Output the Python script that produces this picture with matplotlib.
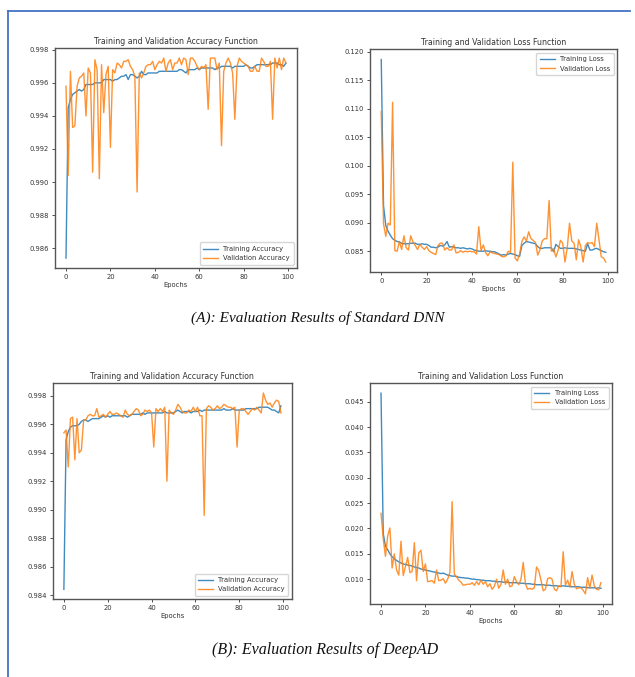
import numpy as np
import matplotlib
matplotlib.use("Agg")
import matplotlib.pyplot as plt
from matplotlib.lines import Line2D

epochs = np.arange(100)

# (A) Standard DNN
dnn_train_acc = [
    0.9854, 0.9945, 0.9950, 0.9953, 0.9954, 0.9955, 0.9956, 0.9955, 0.9956, 0.9959,
    0.9959, 0.9959, 0.9959, 0.9960, 0.9960, 0.9960, 0.9960, 0.9962, 0.9962, 0.9962,
    0.9962, 0.9961, 0.9962, 0.9962, 0.9963, 0.9964, 0.9964, 0.9965, 0.9962, 0.9965,
    0.9965, 0.9964, 0.9963, 0.9964, 0.9967, 0.9965, 0.9965, 0.9966, 0.9966, 0.9966,
    0.9966, 0.9966, 0.9967, 0.9967, 0.9967, 0.9967, 0.9967, 0.9967, 0.9967, 0.9967,
    0.9967, 0.9968, 0.9968, 0.9967, 0.9966, 0.9968, 0.9968, 0.9968, 0.9968, 0.9969,
    0.9968, 0.9969, 0.9969, 0.9969, 0.9969, 0.9969, 0.9969, 0.9968, 0.9969, 0.9969,
    0.9970, 0.9970, 0.9970, 0.9970, 0.9970, 0.9969, 0.9970, 0.9970, 0.9970, 0.9970,
    0.9970, 0.9971, 0.9970, 0.9969, 0.9969, 0.9970, 0.9971, 0.9971, 0.9971, 0.9971,
    0.9971, 0.9971, 0.9971, 0.9972, 0.9972, 0.9972, 0.9971, 0.9971, 0.9970, 0.9972,
]
dnn_val_acc = [
    0.9958, 0.9904, 0.9967, 0.9933, 0.9934, 0.9958, 0.9963, 0.9964, 0.9966, 0.9940,
    0.9969, 0.9966, 0.9906, 0.9974, 0.9968, 0.9902, 0.9971, 0.9942, 0.9965, 0.9970,
    0.9921, 0.9968, 0.9966, 0.9972, 0.9971, 0.9969, 0.9973, 0.9973, 0.9974, 0.9970,
    0.9968, 0.9964, 0.9894, 0.9966, 0.9963, 0.9966, 0.9970, 0.9971, 0.9971, 0.9973,
    0.9968, 0.9971, 0.9973, 0.9972, 0.9975, 0.9967, 0.9972, 0.9974, 0.9968, 0.9972,
    0.9972, 0.9975, 0.9971, 0.9975, 0.9974, 0.9965, 0.9975, 0.9975, 0.9973, 0.9970,
    0.9968, 0.9970, 0.9969, 0.9971, 0.9944, 0.9975, 0.9975, 0.9975, 0.9968, 0.9972,
    0.9922, 0.9967, 0.9972, 0.9975, 0.9972, 0.9966, 0.9938, 0.9970, 0.9975, 0.9973,
    0.9972, 0.9971, 0.9970, 0.9967, 0.9967, 0.9970, 0.9967, 0.9967, 0.9975, 0.9973,
    0.9970, 0.9970, 0.9973, 0.9938, 0.9975, 0.9969, 0.9975, 0.9968, 0.9975, 0.9972,
]
dnn_train_loss = [
    0.1186, 0.0930, 0.0895, 0.0885, 0.0878, 0.0872, 0.0869, 0.0867, 0.0866, 0.0864,
    0.0863, 0.0863, 0.0863, 0.0864, 0.0864, 0.0864, 0.0862, 0.0862, 0.0863, 0.0862,
    0.0862, 0.0860, 0.0857, 0.0857, 0.0856, 0.0857, 0.0860, 0.0859, 0.0861, 0.0867,
    0.0857, 0.0858, 0.0857, 0.0856, 0.0856, 0.0855, 0.0856, 0.0855, 0.0854, 0.0855,
    0.0854, 0.0852, 0.0851, 0.0850, 0.0850, 0.0850, 0.0851, 0.0850, 0.0850, 0.0849,
    0.0849, 0.0847, 0.0845, 0.0843, 0.0844, 0.0843, 0.0845, 0.0846, 0.0845, 0.0844,
    0.0842, 0.0841, 0.0860, 0.0864, 0.0867, 0.0866, 0.0865, 0.0864, 0.0863, 0.0858,
    0.0855, 0.0855, 0.0856, 0.0856, 0.0856, 0.0856, 0.0849, 0.0862, 0.0858, 0.0855,
    0.0855, 0.0856, 0.0855, 0.0855, 0.0855, 0.0855, 0.0854, 0.0853, 0.0852, 0.0851,
    0.0850, 0.0863, 0.0852, 0.0852, 0.0854, 0.0855, 0.0853, 0.0851, 0.0849, 0.0848,
]
dnn_val_loss = [
    0.1095, 0.0898, 0.0876, 0.0899, 0.0896, 0.1111, 0.0851, 0.0850, 0.0867, 0.0853,
    0.0877, 0.0856, 0.0852, 0.0877, 0.0866, 0.0860, 0.0853, 0.0862, 0.0857, 0.0853,
    0.0858, 0.0851, 0.0848, 0.0846, 0.0844, 0.0860, 0.0864, 0.0864, 0.0852, 0.0856,
    0.0852, 0.0852, 0.0861, 0.0847, 0.0848, 0.0851, 0.0848, 0.0850, 0.0849, 0.0850,
    0.0849, 0.0849, 0.0845, 0.0893, 0.0851, 0.0861, 0.0848, 0.0842, 0.0849, 0.0847,
    0.0846, 0.0845, 0.0844, 0.0841, 0.0840, 0.0842, 0.0850, 0.0848, 0.1006, 0.0838,
    0.0833, 0.0845, 0.0867, 0.0875, 0.0868, 0.0884, 0.0872, 0.0869, 0.0865, 0.0843,
    0.0853, 0.0868, 0.0872, 0.0872, 0.0939, 0.0850, 0.0854, 0.0840, 0.0852, 0.0869,
    0.0864, 0.0831, 0.0856, 0.0899, 0.0868, 0.0864, 0.0835, 0.0870, 0.0858, 0.0831,
    0.0860, 0.0865, 0.0864, 0.0865, 0.0858, 0.0899, 0.0870, 0.0840, 0.0838, 0.0831,
]

# (B) DeepAD
deepad_train_acc = [
    0.9844, 0.9949, 0.9955, 0.9958, 0.9959, 0.9959, 0.9959, 0.9960, 0.9962, 0.9963,
    0.9963, 0.9962, 0.9963, 0.9964, 0.9964, 0.9964, 0.9964, 0.9965, 0.9966, 0.9965,
    0.9966, 0.9965, 0.9966, 0.9966, 0.9966, 0.9966, 0.9966, 0.9966, 0.9966, 0.9965,
    0.9966, 0.9967, 0.9967, 0.9967, 0.9967, 0.9967, 0.9968, 0.9967, 0.9968, 0.9968,
    0.9968, 0.9968, 0.9968, 0.9968, 0.9968, 0.9968, 0.9969, 0.9968, 0.9968, 0.9968,
    0.9968, 0.9969, 0.9970, 0.9969, 0.9968, 0.9969, 0.9969, 0.9969, 0.9968, 0.9969,
    0.9969, 0.9969, 0.9970, 0.9969, 0.9970, 0.9970, 0.9970, 0.9970, 0.9970, 0.9970,
    0.9970, 0.9970, 0.9970, 0.9971, 0.9970, 0.9970, 0.9970, 0.9971, 0.9970, 0.9970,
    0.9970, 0.9970, 0.9970, 0.9971, 0.9971, 0.9971, 0.9971, 0.9971, 0.9971, 0.9972,
    0.9972, 0.9972, 0.9972, 0.9972, 0.9971, 0.9970, 0.9970, 0.9969, 0.9968, 0.9973,
]
deepad_val_acc = [
    0.9954, 0.9956, 0.9930, 0.9964, 0.9965, 0.9935, 0.9964, 0.9940, 0.9942, 0.9963,
    0.9963, 0.9966, 0.9967, 0.9966, 0.9966, 0.9971, 0.9965, 0.9966, 0.9967, 0.9965,
    0.9967, 0.9969, 0.9967, 0.9967, 0.9968, 0.9967, 0.9966, 0.9965, 0.9970, 0.9967,
    0.9966, 0.9967, 0.9969, 0.9971, 0.9970, 0.9966, 0.9967, 0.9970, 0.9969, 0.9970,
    0.9968, 0.9944, 0.9971, 0.9969, 0.9971, 0.9969, 0.9972, 0.9920, 0.9970, 0.9968,
    0.9967, 0.9970, 0.9974, 0.9972, 0.9969, 0.9968, 0.9968, 0.9970, 0.9969, 0.9972,
    0.9969, 0.9972, 0.9966, 0.9966, 0.9896, 0.9971, 0.9973, 0.9972, 0.9970, 0.9971,
    0.9973, 0.9971, 0.9972, 0.9974, 0.9973, 0.9972, 0.9972, 0.9971, 0.9972, 0.9944,
    0.9970, 0.9971, 0.9971, 0.9969, 0.9967, 0.9969, 0.9971, 0.9970, 0.9972, 0.9970,
    0.9968, 0.9982, 0.9977, 0.9974, 0.9975, 0.9972, 0.9975, 0.9977, 0.9976, 0.9968,
]
deepad_train_loss = [
    0.0467, 0.0190, 0.0165, 0.0158, 0.0150, 0.0144, 0.0140, 0.0137, 0.0134, 0.0132,
    0.0130, 0.0129, 0.0128, 0.0127, 0.0126, 0.0124, 0.0123, 0.0122, 0.0120, 0.0119,
    0.0118, 0.0117, 0.0116, 0.0115, 0.0114, 0.0113, 0.0112, 0.0111, 0.0112, 0.0110,
    0.0108, 0.0107, 0.0106, 0.0106, 0.0105, 0.0104, 0.0103, 0.0103, 0.0102, 0.0102,
    0.0101, 0.0100, 0.0100, 0.0099, 0.0099, 0.0098, 0.0098, 0.0097, 0.0097, 0.0097,
    0.0096, 0.0096, 0.0095, 0.0095, 0.0095, 0.0094, 0.0094, 0.0094, 0.0093, 0.0093,
    0.0093, 0.0093, 0.0092, 0.0092, 0.0092, 0.0091, 0.0091, 0.0091, 0.0090, 0.0090,
    0.0089, 0.0089, 0.0089, 0.0089, 0.0088, 0.0088, 0.0088, 0.0087, 0.0087, 0.0087,
    0.0086, 0.0086, 0.0087, 0.0086, 0.0086, 0.0086, 0.0085, 0.0085, 0.0085, 0.0085,
    0.0084, 0.0084, 0.0084, 0.0083, 0.0083, 0.0083, 0.0083, 0.0082, 0.0083, 0.0082,
]
deepad_val_loss = [
    0.0230, 0.0180, 0.0145, 0.0185, 0.0201, 0.0122, 0.0150, 0.0118, 0.0108, 0.0175,
    0.0107, 0.0125, 0.0143, 0.0113, 0.0115, 0.0172, 0.0097, 0.0152, 0.0157, 0.0115,
    0.0130, 0.0095, 0.0096, 0.0097, 0.0092, 0.0118, 0.0097, 0.0098, 0.0101, 0.0092,
    0.0100, 0.0113, 0.0253, 0.0110, 0.0105, 0.0098, 0.0094, 0.0088, 0.0089, 0.0090,
    0.0090, 0.0093, 0.0088, 0.0095, 0.0089, 0.0098, 0.0090, 0.0095, 0.0085, 0.0091,
    0.0080, 0.0086, 0.0100, 0.0082, 0.0090, 0.0118, 0.0090, 0.0100, 0.0085, 0.0087,
    0.0105, 0.0095, 0.0089, 0.0100, 0.0133, 0.0091, 0.0080, 0.0082, 0.0080, 0.0083,
    0.0124, 0.0117, 0.0098, 0.0077, 0.0080, 0.0101, 0.0103, 0.0100, 0.0080, 0.0077,
    0.0087, 0.0085, 0.0154, 0.0088, 0.0098, 0.0084, 0.0115, 0.0090, 0.0081, 0.0083,
    0.0083, 0.0078, 0.0071, 0.0103, 0.0082, 0.0108, 0.0087, 0.0080, 0.0079, 0.0093,
]

acc_title = "Training and Validation Accuracy Function"
loss_title = "Training and Validation Loss Function"
caption_a = "(A): Evaluation Results of Standard DNN"
caption_b = "(B): Evaluation Results of DeepAD"

plt.rcParams["font.family"] = "DejaVu Sans"
fig = plt.figure(figsize=(6.35, 6.77), dpi=100)


def panel(rect, train, val, kind, title, loc):
    ax = fig.add_axes(rect)
    ax.plot(epochs, train, color="#1f77b4", lw=1.0, alpha=0.85, label="Training " + kind)
    ax.plot(epochs, val, color="#ff7f0e", lw=1.0, alpha=0.85, label="Validation " + kind)
    ax.set_title(title, fontsize=5.6, color="#333333", pad=3)
    ax.set_xlabel("Epochs", fontsize=4.9, color="#333333", labelpad=1.5)
    ax.set_xticks([0, 20, 40, 60, 80, 100])
    ax.tick_params(labelsize=4.9, colors="#333333", length=2.5, width=0.6, pad=2)
    for s in ax.spines.values():
        s.set_color("#555555")
        s.set_linewidth(1.0)
    leg = ax.legend(loc=loc, fontsize=4.9, handlelength=2.2, borderpad=0.5)
    for t in leg.get_texts():
        t.set_color("#333333")
    return ax


panel([0.0866, 0.604, 0.381, 0.325], dnn_train_acc, dnn_val_acc,
      "Accuracy", acc_title, "lower right")
panel([0.5827, 0.598, 0.389, 0.329], dnn_train_loss, dnn_val_loss,
      "Loss", loss_title, "upper right")
panel([0.0835, 0.115, 0.376, 0.319], deepad_train_acc, deepad_val_acc,
      "Accuracy", acc_title, "lower right")
panel([0.5827, 0.108, 0.381, 0.326], deepad_train_loss, deepad_val_loss,
      "Loss", loss_title, "upper right")

fig.text(0.501, 1 - 318 / 677, caption_a, ha="center", va="center",
         fontsize=11, style="italic", family="Liberation Serif", color="#111111")
fig.text(0.512, 1 - 650 / 677, caption_b, ha="center", va="center",
         fontsize=11.5, style="italic", family="Liberation Serif", color="#111111")

# blue frame (top and left edges of the page box)
fig.add_artist(Line2D([8 / 635, 630 / 635], [1 - 11 / 677, 1 - 11 / 677],
                      transform=fig.transFigure, color="#4472c4", lw=1.3))
fig.add_artist(Line2D([8 / 635, 8 / 635], [1 - 11 / 677, 0],
                      transform=fig.transFigure, color="#4472c4", lw=1.3))

fig.savefig("out.png", dpi=100)
